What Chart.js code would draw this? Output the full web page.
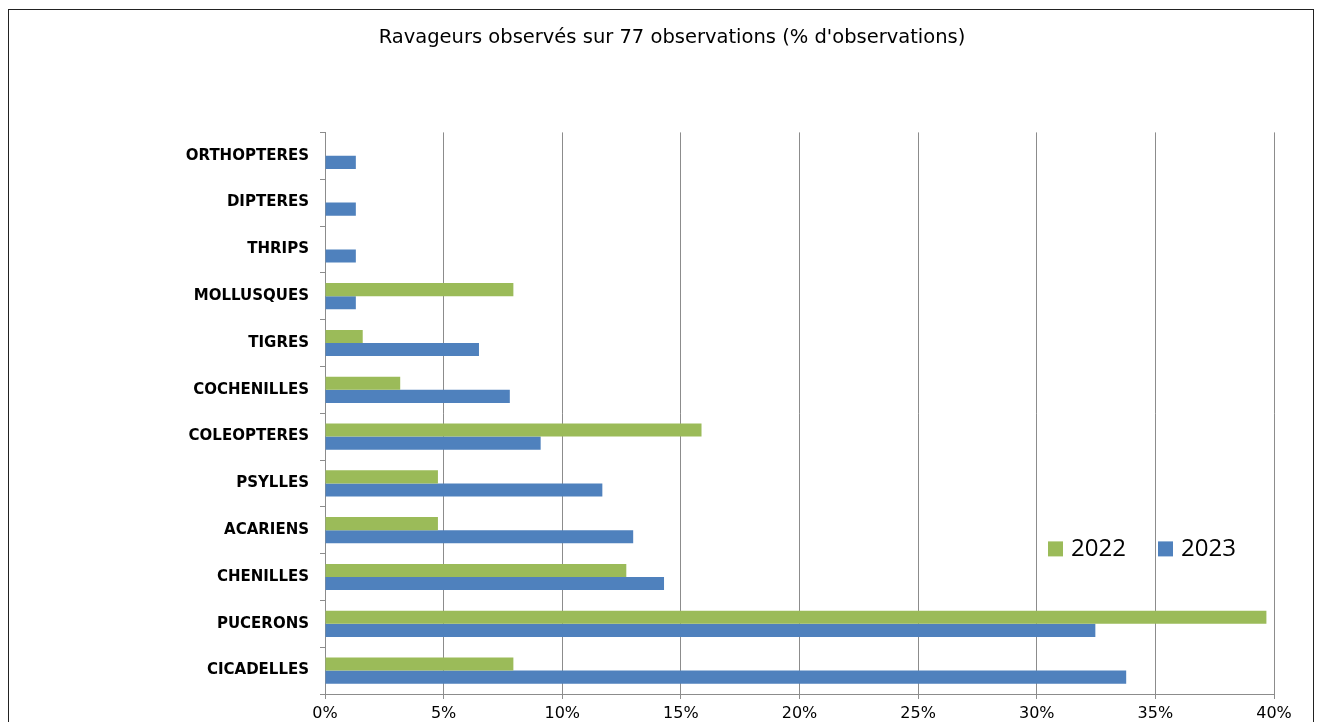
<!DOCTYPE html>
<html>
<head>
<meta charset="utf-8">
<script src="https://cdn.jsdelivr.net/npm/chart.js@4/dist/chart.umd.min.js"></script>
<style>
    html, body { margin: 0; padding: 0; background: #fff; }
    #wrap { position: relative; width: 1322px; height: 722px; overflow: hidden; }
    #frame { position: absolute; left: 8px; top: 9px; width: 1306px; height: 760px; border: 1.5px solid #222; box-sizing: border-box; pointer-events: none; }
    canvas { position: absolute; left: 0; top: 0; }
</style>
</head>
<body>
<div id="wrap">
    <canvas id="pestChart" width="1322" height="722"></canvas>
    <div id="frame"></div>
</div>
<script>
const categories = ['ORTHOPTERES', 'DIPTERES', 'THRIPS', 'MOLLUSQUES', 'TIGRES', 'COCHENILLES',
    'COLEOPTERES', 'PSYLLES', 'ACARIENS', 'CHENILLES', 'PUCERONS', 'CICADELLES'];
const values2022 = [0, 0, 0, 7.94, 1.59, 3.17, 15.87, 4.76, 4.76, 12.70, 39.68, 7.94];
const values2023 = [1.30, 1.30, 1.30, 1.30, 6.49, 7.79, 9.09, 11.69, 12.99, 14.29, 32.47, 33.77];
const seriesLabels = ['2022', '2023'];
const xTicks = [0, 5, 10, 15, 20, 25, 30, 35, 40];

const GREEN = '#9BBB59';
const BLUE = '#4F81BD';
const GRID = '#8c8c8c';

// Legend drawn inside the plot area, like the original spreadsheet chart
const insideLegend = {
    id: 'insideLegend',
    afterDraw(chart) {
        const ctx = chart.ctx;
        const area = chart.chartArea;
        let x = area.left + 723;
        const y = area.top + 416;
        ctx.save();
        ctx.font = '24px "Open Sans"';
        ctx.textBaseline = 'middle';
        chart.data.datasets.forEach(ds => {
            ctx.fillStyle = ds.backgroundColor;
            ctx.fillRect(x, y - 7, 15, 15);
            ctx.fillStyle = '#000';
            ctx.fillText(ds.label, x + 23, y + 1);
            x += 110;
        });
        ctx.restore();
    }
};

new Chart(document.getElementById('pestChart'), {
    type: 'bar',
    data: {
        labels: categories,
        datasets: [{
            label: seriesLabels[0],
            data: values2022,
            backgroundColor: GREEN,
            categoryPercentage: 0.56,
            barPercentage: 1
        }, {
            label: seriesLabels[1],
            data: values2023,
            backgroundColor: BLUE,
            categoryPercentage: 0.56,
            barPercentage: 1
        }]
    },
    options: {
        indexAxis: 'y',
        responsive: false,
        animation: false,
        layout: {
            padding: { left: 70, right: 48, top: 0, bottom: 0 }
        },
        plugins: {
            legend: { display: false },
            tooltip: { enabled: false },
            title: {
                display: true,
                text: "Ravageurs observés sur 77 observations (% d'observations)",
                color: '#000',
                font: { family: '"DejaVu Sans"', size: 19.5, weight: 'normal' },
                padding: { top: 26, bottom: 83 }
            }
        },
        scales: {
            x: {
                min: 0,
                max: 40,
                afterBuildTicks(scale) {
                    scale.ticks = xTicks.map(v => ({ value: v }));
                },
                afterFit(scale) {
                    scale.height = 28;
                },
                grid: {
                    color: GRID,
                    lineWidth: 1,
                    drawTicks: true,
                    tickLength: 5
                },
                border: { display: true, color: GRID },
                ticks: {
                    color: '#000',
                    padding: 5,
                    font: { family: '"DejaVu Sans"', size: 16 },
                    callback: v => v + '%'
                }
            },
            y: {
                afterFit(scale) {
                    scale.width = 255;
                },
                grid: {
                    display: true,
                    drawOnChartArea: false,
                    drawTicks: true,
                    tickLength: 5,
                    color: GRID
                },
                border: { display: true, color: GRID },
                ticks: {
                    color: '#000',
                    padding: 11,
                    font: { family: '"DejaVu Sans"', size: 15, weight: 'bold' }
                }
            }
        }
    },
    plugins: [insideLegend]
});
</script>
</body>
</html>
